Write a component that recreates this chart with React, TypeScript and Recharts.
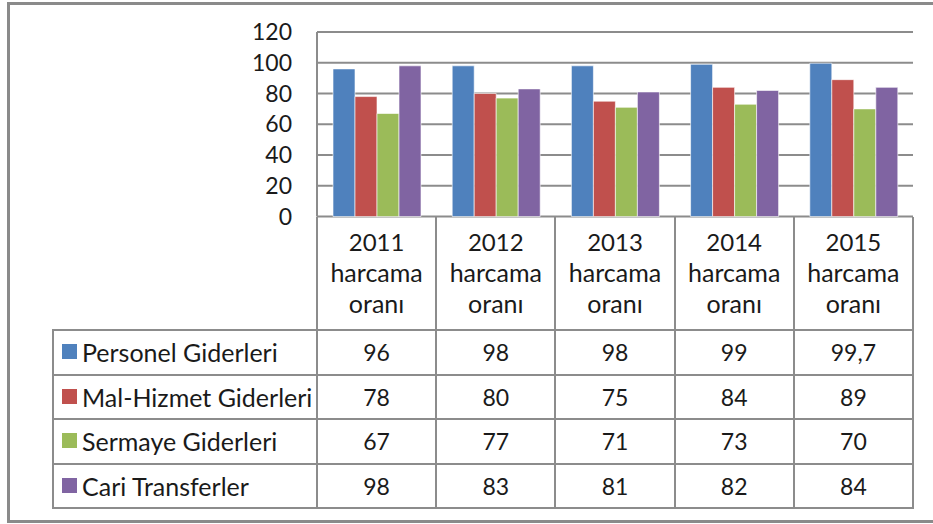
import React from 'react';
import { BarChart, Bar, XAxis, YAxis, CartesianGrid } from 'recharts';

const years = ['2011', '2012', '2013', '2014', '2015'];
const personel = [96, 98, 98, 99, 99.7];
const malHizmet = [78, 80, 75, 84, 89];
const sermaye = [67, 77, 71, 73, 70];
const cariTransfer = [98, 83, 81, 82, 84];
const yTicks = [0, 20, 40, 60, 80, 100, 120];

const seriesList = [
  { key: 'personel', name: 'Personel Giderleri', color: '#4F81BD', values: personel },
  { key: 'malHizmet', name: 'Mal-Hizmet Giderleri', color: '#C0504D', values: malHizmet },
  { key: 'sermaye', name: 'Sermaye Giderleri', color: '#9BBB59', values: sermaye },
  { key: 'cari', name: 'Cari Transferler', color: '#8064A2', values: cariTransfer },
];

const data = years.map((y, i) => {
  const row: any = { year: y };
  seriesList.forEach((s) => {
    row[s.key] = s.values[i];
  });
  return row;
});

const FONT = 'Lato, "Open Sans", sans-serif';
const LINE = '#8c8c8c';
const TEXT = '#1a1a1a';

// plot box (px)
const PLOT_L = 317;
const PLOT_R = 913;
const PLOT_T = 32;
const PLOT_B = 216.5;
const HEAD_B = 330;
const TABLE_L = 53;
const ROW_H = 44.6;

const fmt = (v: number) => String(v).replace('.', ',');

const CategoryTick = ({ x, y, payload }: any) => (
  <text x={x} y={y} textAnchor="middle" fontFamily={FONT} fontSize={24} fill={TEXT}>
    <tspan x={x} dy={26}>{payload.value}</tspan>
    <tspan x={x} dy={31} fontSize={25}>harcama</tspan>
    <tspan x={x} dy={31} fontSize={25}>oranı</tspan>
  </text>
);

const ValueTick = ({ x, y, payload }: any) => (
  <text x={x} y={y} dy={8} textAnchor="end" fontFamily={FONT} fontSize={23} fill={TEXT}>
    {payload.value}
  </text>
);

export default function App() {
  const colW = (PLOT_R - PLOT_L) / years.length;
  const lines: React.ReactNode[] = [];
  // header verticals
  for (let i = 0; i <= years.length; i++) {
    const x = PLOT_L + i * colW;
    lines.push(
      <div key={`hv${i}`} style={{ position: 'absolute', left: x - 1, top: PLOT_B, width: 2, height: HEAD_B - PLOT_B + seriesList.length * ROW_H, background: LINE }} />
    );
  }
  // table left border
  lines.push(
    <div key="tl" style={{ position: 'absolute', left: TABLE_L - 1, top: HEAD_B, width: 2, height: seriesList.length * ROW_H, background: LINE }} />
  );
  for (let r = 0; r <= seriesList.length; r++) {
    lines.push(
      <div key={`hh${r}`} style={{ position: 'absolute', left: TABLE_L - 1, top: HEAD_B + r * ROW_H - 1, width: PLOT_R - TABLE_L + 2, height: 2, background: LINE }} />
    );
  }

  return (
    <div style={{ position: 'absolute', left: 0, top: 0, width: 933, height: 524, background: '#fff', overflow: 'hidden', fontFamily: FONT }}>
      <div style={{ position: 'absolute', left: 7, top: 2, width: 960, height: 521, border: '3px solid #8a8a8a', boxSizing: 'border-box' }} />
      <BarChart
        width={933}
        height={524}
        data={data}
        margin={{ top: PLOT_T, right: 933 - PLOT_R, left: PLOT_L - 50, bottom: 524 - HEAD_B }}
        barCategoryGap={16}
        barGap={0}
        style={{ position: 'absolute', left: 0, top: 0 }}
      >
        <CartesianGrid vertical={false} stroke={LINE} strokeWidth={2} />
        <XAxis dataKey="year" height={HEAD_B - PLOT_B} tick={<CategoryTick />} tickLine={false} axisLine={false} interval={0} />
        <YAxis
          width={50}
          domain={[0, 120]}
          ticks={yTicks}
          tick={<ValueTick />}
          tickLine={false}
          tickSize={0}
          tickMargin={25}
          axisLine={{ stroke: LINE, strokeWidth: 2 }}
        />
        {seriesList.map((s) => (
          <Bar key={s.key} dataKey={s.key} name={s.name} fill={s.color} stroke="#ffffff" strokeOpacity={0.6} strokeWidth={1} isAnimationActive={false} />
        ))}
      </BarChart>
      {lines}
      {seriesList.map((s, r) => (
        <React.Fragment key={s.key}>
          <div style={{ position: 'absolute', left: 62, top: HEAD_B + r * ROW_H + 14, width: 15, height: 15, background: s.color }} />
          <div style={{ position: 'absolute', left: 82, top: HEAD_B + r * ROW_H, height: ROW_H, lineHeight: `${ROW_H}px`, fontSize: 25, color: TEXT, whiteSpace: 'nowrap' }}>
            {s.name}
          </div>
          {s.values.map((v, i) => (
            <div key={i} style={{ position: 'absolute', left: PLOT_L + i * colW, top: HEAD_B + r * ROW_H, width: colW, height: ROW_H, lineHeight: `${ROW_H}px`, textAlign: 'center', fontSize: 23, color: TEXT }}>
              {fmt(v)}
            </div>
          ))}
        </React.Fragment>
      ))}
    </div>
  );
}
